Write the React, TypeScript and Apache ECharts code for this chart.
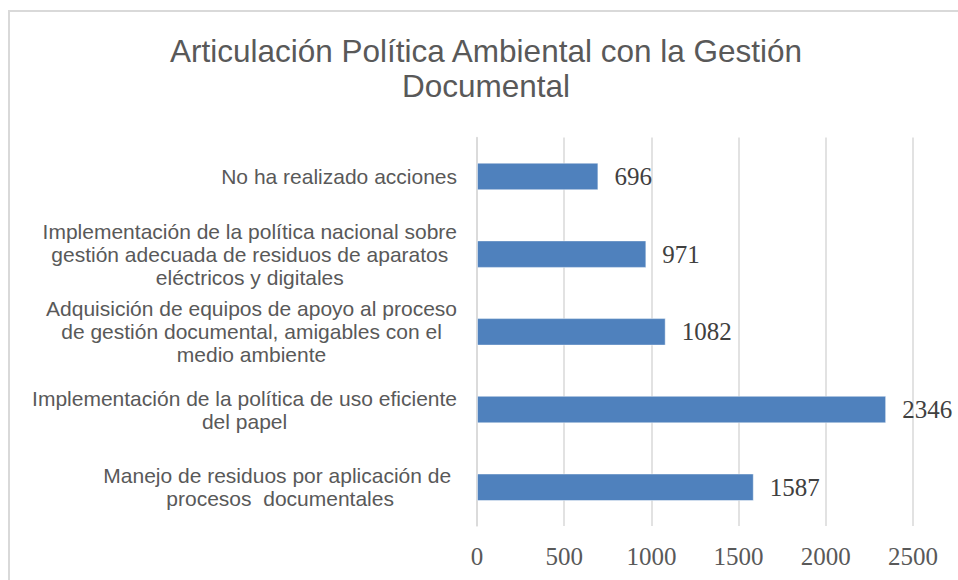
import React, { useEffect, useRef } from "react";
import * as echarts from "echarts";

const titleText = "Articulación Política Ambiental con la Gestión\nDocumental";

const categories = [
  "Manejo de residuos por aplicación de \nprocesos  documentales",
  "Implementación de la política de uso eficiente\ndel papel",
  "Adquisición de equipos de apoyo al proceso\nde gestión documental, amigables con el\nmedio ambiente",
  "Implementación de la política nacional sobre\ngestión adecuada de residuos de aparatos\neléctricos y digitales",
  "No ha realizado acciones",
];

const values = [1587, 2346, 1082, 971, 696];

const xTicks = { min: 0, max: 2500, interval: 500 };

export default function App() {
  const ref = useRef<HTMLDivElement>(null);

  useEffect(() => {
    document.body.style.margin = "0";
    if (!ref.current) return;
    const chart = echarts.init(ref.current, undefined, { renderer: "svg" });
    chart.setOption({
      animation: false,
      backgroundColor: "#ffffff",
      title: {
        text: titleText,
        left: 486,
        top: 33,
        padding: 0,
        textAlign: "center",
        textStyle: {
          fontFamily: "Liberation Sans, Arial, sans-serif",
          fontSize: 31.5,
          fontWeight: "normal",
          color: "#595959",
          lineHeight: 35,
        },
      },
      graphic: [
        {
          type: "rect",
          shape: { x: 9, y: 11, width: 980, height: 620 },
          style: { fill: "none", stroke: "#d9d9d9", lineWidth: 2 },
          silent: true,
          z: -1,
        },
      ],
      grid: {
        left: 477,
        top: 137.6,
        width: 436,
        height: 388.5,
        containLabel: false,
      },
      xAxis: {
        type: "value",
        min: xTicks.min,
        max: xTicks.max,
        interval: xTicks.interval,
        axisLine: { show: false },
        axisTick: { show: false },
        splitLine: { show: true, lineStyle: { color: "#d9d9d9", width: 1.5 } },
        axisLabel: {
          margin: 18,
          formatter: (v: number) => String(v),
          fontFamily: "Liberation Serif, Times New Roman, serif",
          fontSize: 25,
          color: "#595959",
        },
      },
      yAxis: {
        type: "category",
        data: categories,
        axisLine: { show: true, lineStyle: { color: "#d9d9d9", width: 1.5 } },
        axisTick: { show: false },
        splitLine: { show: false },
        axisLabel: {
          margin: 20,
          align: "right",
          formatter: (v: string) =>
            v
              .split("\n")
              .map((l) => `{c|${l}}`)
              .join("\n"),
          rich: {
            c: {
              align: "center",
              fontFamily: "Liberation Sans, Arial, sans-serif",
              fontSize: 21,
              lineHeight: 23,
              color: "#595959",
            },
          },
        },
      },
      series: [
        {
          type: "bar",
          data: values,
          barWidth: 27.5,
          itemStyle: {
            color: "#4f81bd",
            borderColor: "rgba(255,255,255,0.45)",
            borderWidth: 1,
          },
          label: {
            show: true,
            position: "right",
            distance: 16,
            fontFamily: "Liberation Serif, Times New Roman, serif",
            fontSize: 25,
            color: "#404040",
          },
        },
      ],
    });
    return () => chart.dispose();
  }, []);

  return <div ref={ref} style={{ width: 958, height: 580 }} />;
}
